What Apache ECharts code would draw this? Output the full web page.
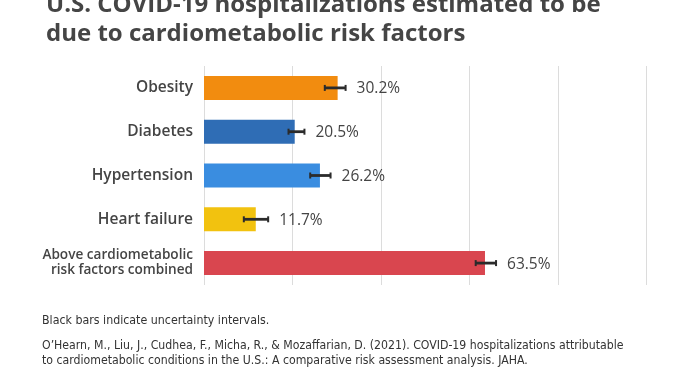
<!DOCTYPE html>
<html><head><meta charset="utf-8">
<script src="https://cdn.jsdelivr.net/npm/echarts@6/dist/echarts.min.js"></script>
<style>html,body{margin:0;padding:0;background:#fff}#c{width:688px;height:387px}</style>
</head><body><div id="c"></div>
<script>
const categories = ['Obesity','Diabetes','Hypertension','Heart failure','Above cardiometabolic\nrisk factors combined'];
const values = [30.2, 20.5, 26.2, 11.7, 63.5];
const lower = [27.3, 19.1, 24.0, 9.0, 61.4];
const upper = [32.0, 22.7, 28.6, 14.5, 66.0];
const colors = ['#F28C0F','#2F6DB5','#3A8DE0','#F2C20F','#D9464F'];
const xTicks = [0, 20, 40, 60, 80, 100];

const chart = echarts.init(document.getElementById('c'));
chart.setOption({
  animation: false,
  backgroundColor: '#fff',
  title: {
    text: 'U.S. COVID-19 hospitalizations estimated to be\ndue to cardiometabolic risk factors',
    left: 41, top: -14,
    textStyle: {fontFamily: 'Open Sans', fontWeight: 700, fontSize: 24, lineHeight: 28.5, color: '#454545'}
  },
  graphic: [
    {type: 'text', left: 42, top: 315, style: {text: 'Black bars indicate uncertainty intervals.', font: '12.3px "Liberation Sans Narrow", "DejaVu Sans Condensed", sans-serif', fill: '#333'}},
    {type: 'text', left: 42, top: 339, style: {text: "O\u2019Hearn, M., Liu, J., Cudhea, F., Micha, R., & Mozaffarian, D. (2021). COVID-19 hospitalizations attributable\nto cardiometabolic conditions in the U.S.: A comparative risk assessment analysis. JAHA.", font: '12.2px "Liberation Sans Narrow", "DejaVu Sans Condensed", sans-serif', lineHeight: 14.5, fill: '#333'}}
  ],
  grid: {left: 204, top: 66, width: 442.5, height: 219, containLabel: false},
  xAxis: {
    type: 'value', min: xTicks[0], max: xTicks[xTicks.length-1], interval: 20,
    axisLabel: {show: false}, axisLine: {show: false}, axisTick: {show: false},
    splitLine: {show: true, lineStyle: {color: '#dcdcdc', width: 1}}
  },
  yAxis: {
    type: 'category', data: categories, inverse: true,
    axisLine: {show: false}, axisTick: {show: false},
    axisLabel: {
      margin: 11, align: 'right', fontFamily: 'Open Sans', fontWeight: 600, fontSize: 15.5, color: '#444',
      formatter: function (v) { return v.indexOf('\n') >= 0 ? '{s|' + v.split('\n').join('}\n{s|') + '}' : v; },
      rich: {s: {fontFamily: 'Open Sans', fontWeight: 600, fontSize: 13.6, lineHeight: 15, color: '#444', align: 'right'}}
    }
  },
  series: [
    {
      type: 'bar', barWidth: 24,
      data: values.map((v, i) => ({value: v, itemStyle: {color: colors[i]}}))
    },
    {
      type: 'custom',
      data: values.map((v, i) => [i, lower[i], upper[i], v]),
      encode: {x: [1, 2], y: 0},
      z: 10,
      renderItem: function (params, api) {
        const cat = api.value(0);
        const p1 = api.coord([api.value(1), cat]);
        const p2 = api.coord([api.value(2), cat]);
        const h = 3;
        return {
          type: 'group',
          children: [
            {type: 'line', shape: {x1: p1[0], y1: p1[1], x2: p2[0], y2: p2[1]}, style: {stroke: '#2b2b2b', lineWidth: 2.8}},
            {type: 'line', shape: {x1: p1[0], y1: p1[1]-h, x2: p1[0], y2: p1[1]+h}, style: {stroke: '#2b2b2b', lineWidth: 2}},
            {type: 'line', shape: {x1: p2[0], y1: p2[1]-h, x2: p2[0], y2: p2[1]+h}, style: {stroke: '#2b2b2b', lineWidth: 2}},
            {type: 'text', x: p2[0] + 11, y: p2[1] + 1, style: {text: api.value(3).toFixed(1) + '%', font: '500 15.5px "Open Sans"', fill: '#444', verticalAlign: 'middle'}}
          ]
        };
      }
    }
  ]
});
</script></body></html>
